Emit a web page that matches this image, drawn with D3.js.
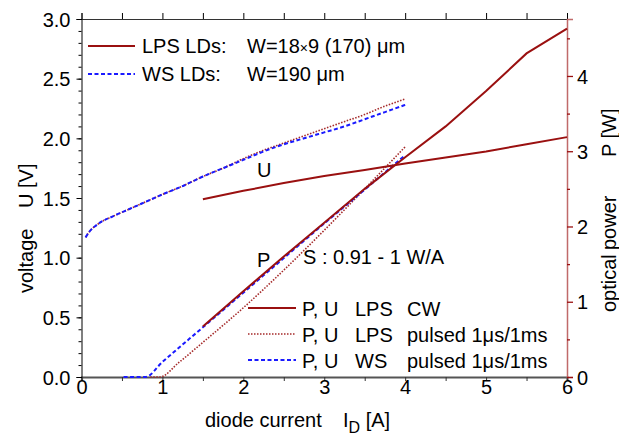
<!DOCTYPE html>
<html>
<head>
<meta charset="utf-8">
<script src="https://cdn.jsdelivr.net/npm/d3@7"></script>
<style>
  body { margin: 0; background: #fff; }
  svg { font-family: "Liberation Sans", Arial, sans-serif; }
</style>
</head>
<body>
<div id="chart"></div>
<script>
// LPS CW (solid)
const current_cw = [1.5, 2, 2.5, 3, 3.5, 4, 4.5, 5, 5.5, 6];
const u_lps_cw = [1.49, 1.56, 1.625, 1.685, 1.735, 1.79, 1.84, 1.89, 1.95, 2.01];
const p_lps_cw = [0.67, 1.14, 1.6, 2.05, 2.5, 2.92, 3.33, 3.8, 4.3, 4.63];

// pulsed voltage curves
const current_u_pulsed = [0.05, 0.1, 0.2, 0.4, 0.6, 0.8, 1, 1.25, 1.5, 1.75, 2, 2.25, 2.5, 2.75, 3, 3.25, 3.5, 3.75, 4];
const u_ws_pulsed = [1.17, 1.22, 1.28, 1.35, 1.41, 1.47, 1.53, 1.6, 1.68, 1.75, 1.82, 1.89, 1.95, 2.0, 2.05, 2.1, 2.16, 2.22, 2.28];
const u_lps_pulsed = [1.17, 1.22, 1.28, 1.35, 1.41, 1.47, 1.53, 1.6, 1.68, 1.75, 1.83, 1.9, 1.96, 2.02, 2.08, 2.14, 2.2, 2.27, 2.33];

// pulsed power curves
const current_ws_p = [0.52, 0.79, 1, 1.5, 2, 2.5, 3, 3.5, 3.98];
const p_ws_pulsed = [0, 0, 0.2, 0.66, 1.12, 1.58, 2.04, 2.49, 2.93];
const current_lps_p = [0.85, 0.97, 1.2, 1.5, 2, 2.5, 3, 3.5, 4.01];
const p_lps_pulsed = [0, 0, 0.19, 0.46, 0.92, 1.42, 1.95, 2.5, 3.07];

const xTicks = [0, 1, 2, 3, 4, 5, 6];
const uTicks = [0.0, 0.5, 1.0, 1.5, 2.0, 2.5, 3.0];
const pTicks = [0, 1, 2, 3, 4];

const width = 619, height = 436;
const plotL = 81.5, plotR = 567, plotT = 19, plotB = 377;
const cwRed = "#9a1010";
const dotRed = "#a52a2a";
const blue = "#1a1aff";
const axisRed = "#c06a6a";
const fs = "20px";

const x = d3.scaleLinear().domain([0, 6]).range([plotL, plotR]);
const yU = d3.scaleLinear().domain([0, 3]).range([plotB, plotT]);
const yP = d3.scaleLinear().domain([0, 4.757]).range([plotB, plotT]);

const svg = d3.select("#chart").append("svg")
  .attr("width", width).attr("height", height);

function pairs(xs, ys) { return xs.map((v, i) => [v, ys[i]]); }

// bottom axis
const bottomAxis = svg.append("g").attr("transform", `translate(0,${plotB})`)
  .call(d3.axisBottom(x).tickValues(d3.range(0, 6.01, 0.5)).tickSize(4)
    .tickFormat(d => xTicks.includes(d) ? d : ""));
bottomAxis.selectAll("text").attr("font-size", fs).attr("fill", "#000").attr("y", 17).attr("dy", 0);
bottomAxis.select(".domain").attr("stroke", "#555").attr("stroke-width", 2.2);
bottomAxis.selectAll(".tick line").attr("stroke", "#333");

// top axis
const topAxis = svg.append("g").attr("transform", `translate(0,${plotT})`)
  .call(d3.axisTop(x).tickValues(d3.range(0, 6.01, 0.5)).tickSize(6).tickFormat(""));
topAxis.select(".domain").attr("stroke", "#333");

// left axis
const leftAxis = svg.append("g").attr("transform", `translate(${plotL},0)`)
  .call(d3.axisLeft(yU).tickValues(uTicks).tickSize(5).tickFormat(d3.format(".1f")));
leftAxis.selectAll("text").attr("font-size", fs).attr("fill", "#000").attr("x", -11).attr("dy", "0.36em");
leftAxis.select(".domain").attr("stroke", "#000");
svg.append("g").attr("transform", `translate(${plotL},0)`)
  .call(d3.axisLeft(yU).tickValues(d3.range(0, 3.001, 0.1)).tickSize(3).tickFormat(""))
  .select(".domain").remove();

// right axis
const rightAxis = svg.append("g").attr("transform", `translate(${plotR},0)`)
  .call(d3.axisRight(yP).tickValues(pTicks).tickSize(6).tickFormat(d3.format("d")));
rightAxis.selectAll("text").attr("font-size", fs).attr("fill", "#000").attr("x", 10).attr("dy", "0.36em");
rightAxis.select(".domain").attr("stroke", axisRed).attr("stroke-width", 1.5);
rightAxis.selectAll(".tick line").attr("stroke", cwRed).attr("stroke-width", 1.3);
const rMinor = svg.append("g").attr("transform", `translate(${plotR},0)`)
  .call(d3.axisRight(yP).tickValues(d3.range(0.5, 4.6, 1)).tickSize(3).tickFormat(""));
rMinor.select(".domain").remove();
rMinor.selectAll(".tick line").attr("stroke", cwRed).attr("stroke-width", 1.3);

// curves
const lineU = d3.line().x(d => x(d[0])).y(d => yU(d[1])).curve(d3.curveMonotoneX);
const lineP = d3.line().x(d => x(d[0])).y(d => yP(d[1])).curve(d3.curveMonotoneX);
const lineCwU = d3.line().x(d => x(d[0])).y(d => yU(d[1]));
const lineCwP = d3.line().x(d => x(d[0])).y(d => yP(d[1]));

function draw(path, stroke, w, dash) {
  svg.append("path").attr("d", path).attr("fill", "none")
    .attr("stroke", stroke).attr("stroke-width", w)
    .attr("stroke-dasharray", dash);
}
draw(lineU(pairs(current_u_pulsed, u_lps_pulsed)), dotRed, 1.6, "1.5,1.5");
draw(lineU(pairs(current_u_pulsed, u_ws_pulsed)), blue, 2, "4,2.5");
draw(lineP(pairs(current_lps_p, p_lps_pulsed)), dotRed, 1.6, "1.5,1.5");
draw(lineP(pairs(current_ws_p, p_ws_pulsed)), blue, 2, "4,2.5");
draw(lineCwU(pairs(current_cw, u_lps_cw)), cwRed, 2, null);
draw(lineCwP(pairs(current_cw, p_lps_cw)), cwRed, 2, null);

// axis titles
function vText(xPos, yPos, s) {
  svg.append("text").attr("transform", `translate(${xPos},${yPos}) rotate(-90)`)
    .attr("font-size", fs).text(s);
}
vText(33, 293, "voltage");
vText(33, 208, "U [V]");
vText(616, 312, "optical");
vText(616, 250, "power");
vText(616, 157, "P [W]");

svg.append("text").attr("x", 205).attr("y", 427).attr("font-size", fs).text("diode current");
const xt = svg.append("text").attr("x", 343).attr("y", 427).attr("font-size", fs);
xt.append("tspan").text("I");
xt.append("tspan").attr("font-size", "16px").attr("dy", 6).text("D");
xt.append("tspan").attr("dy", -6).text(" [A]");

// annotations
svg.append("text").attr("x", 257).attr("y", 177).attr("font-size", fs).text("U");
svg.append("text").attr("x", 257).attr("y", 267).attr("font-size", fs).text("P");
svg.append("text").attr("x", 303).attr("y", 264).attr("font-size", fs).text("S : 0.91 - 1 W/A");

// top legend
const topLegend = [
  { y: 46, stroke: cwRed, w: 2, dash: null, a: "LPS LDs:", b: "W=18", times: true, c: "9 (170) μm" },
  { y: 74, stroke: blue, w: 2, dash: "4,2.5", a: "WS LDs:", b: "W=190 μm", times: false, c: "" }
];
topLegend.forEach(r => {
  svg.append("line").attr("x1", 88).attr("x2", 135).attr("y1", r.y).attr("y2", r.y)
    .attr("stroke", r.stroke).attr("stroke-width", r.w).attr("stroke-dasharray", r.dash);
  svg.append("text").attr("x", 142).attr("y", r.y + 7).attr("font-size", fs).text(r.a);
  const t = svg.append("text").attr("x", 247).attr("y", r.y + 7).attr("font-size", fs);
  t.append("tspan").text(r.b);
  if (r.times) {
    t.append("tspan").attr("font-size", "14px").text("×");
    t.append("tspan").text(r.c);
  }
});

// bottom legend
const bottomLegend = [
  { y: 308, stroke: cwRed, w: 2, dash: null, a: "P, U", b: "LPS", c: "CW" },
  { y: 334, stroke: dotRed, w: 1.6, dash: "1.5,1.5", a: "P, U", b: "LPS", c: "pulsed 1μs/1ms" },
  { y: 360, stroke: blue, w: 2, dash: "4,2.5", a: "P, U", b: "WS", c: "pulsed 1μs/1ms" }
];
bottomLegend.forEach(r => {
  svg.append("line").attr("x1", 248).attr("x2", 296).attr("y1", r.y).attr("y2", r.y)
    .attr("stroke", r.stroke).attr("stroke-width", r.w).attr("stroke-dasharray", r.dash);
  svg.append("text").attr("x", 302).attr("y", r.y + 8).attr("font-size", fs).text(r.a);
  svg.append("text").attr("x", 355).attr("y", r.y + 8).attr("font-size", fs).text(r.b);
  svg.append("text").attr("x", 407).attr("y", r.y + 8).attr("font-size", fs).text(r.c);
});
</script>
</body>
</html>
